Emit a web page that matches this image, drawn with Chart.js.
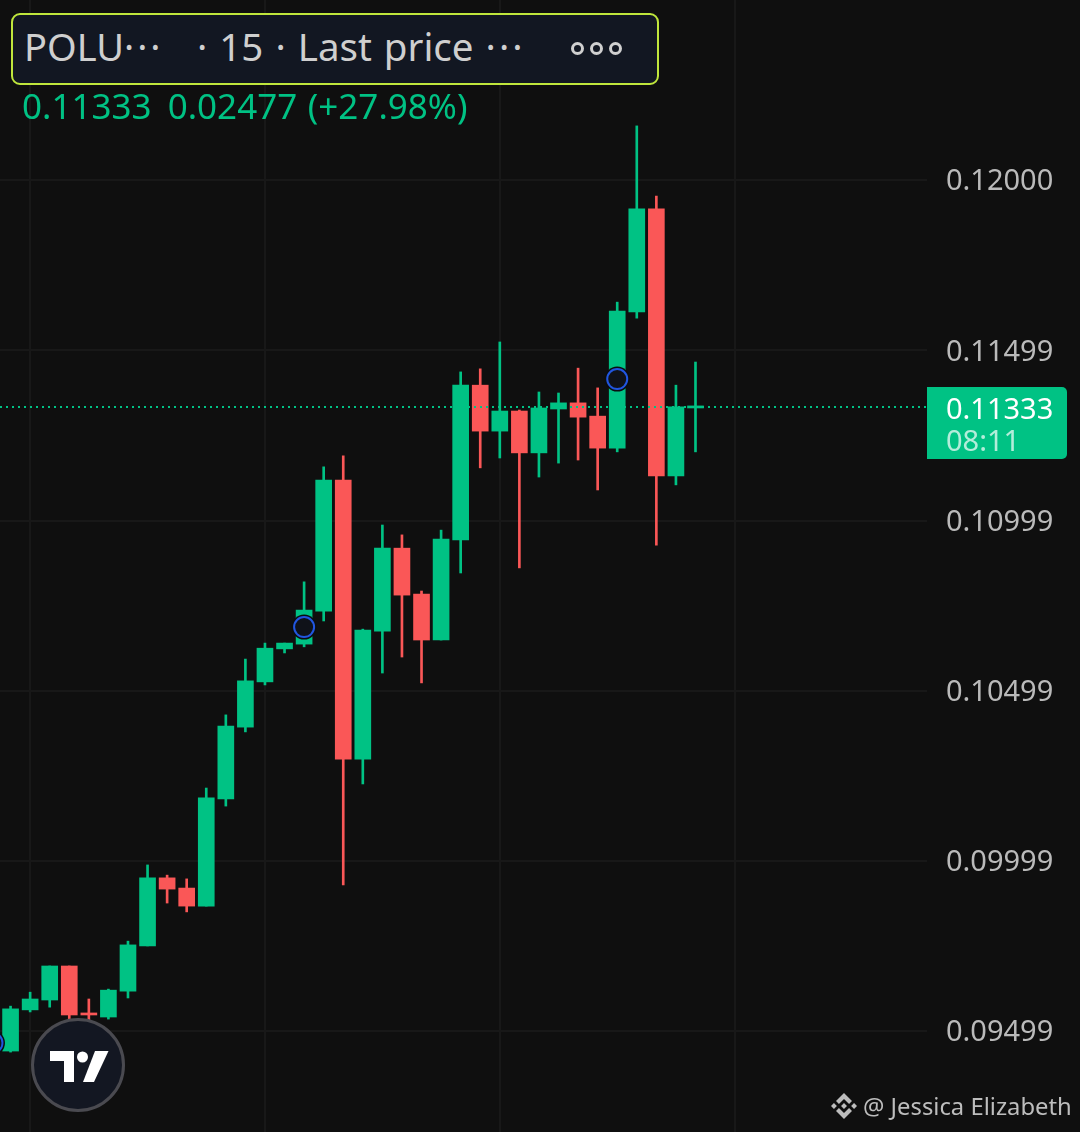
<!DOCTYPE html>
<html>
<head>
<meta charset="utf-8">
<script src="https://cdn.jsdelivr.net/npm/chart.js@4"></script>
<style>
html,body{margin:0;padding:0;background:#0f0f0f;}
#wrap{position:relative;width:1080px;height:1132px;overflow:hidden;background:#0f0f0f;font-family:"Noto Sans",sans-serif;}
canvas{position:absolute;left:0;top:0;}
.abs{position:absolute;white-space:pre;line-height:1;}
#hdr{position:absolute;left:11px;top:13px;width:644px;height:68px;border:2px solid #bfe63c;border-radius:9px;background:#121722;}
.dot{position:absolute;top:42px;width:7px;height:7px;border:3px solid #d0d0d0;border-radius:50%;}
.sp{letter-spacing:3px;}
#tag{position:absolute;left:927px;top:387px;width:140px;height:72px;background:#00c284;border-radius:0 5px 5px 0;}
</style>
</head>
<body>
<div id="wrap">
<canvas id="c" width="1080" height="1132"></canvas>
<div id="hdr"></div>
<div class="abs" style="left:24px;top:27px;font-size:38px;color:#cfcfcf;">POLU<span class="sp">···</span></div>
<div class="abs" style="left:197px;top:27px;font-size:38.5px;word-spacing:2px;color:#cfcfcf;">· 15 · Last price <span class="sp">···</span></div>
<div class="dot" style="left:571px"></div><div class="dot" style="left:590px"></div><div class="dot" style="left:609px"></div>
<div class="abs" style="left:22px;top:88px;font-size:35px;color:#00c284;">0.11333  <span style="margin-left:-2px">0.02477</span> <span style="margin-left:1.5px">(+27.98%)</span></div>
<div id="tag"></div>
<div class="abs" style="left:946px;top:393px;font-size:29px;color:#ffffff;">0.11333</div>
<div class="abs" style="left:946px;top:425px;font-size:29px;color:rgba(255,255,255,.7);">08:11</div>
<svg style="position:absolute;left:30px;top:1017px" width="96" height="96" viewBox="30 1017 96 96">
<circle cx="78" cy="1065" r="45.5" fill="#131722" stroke="#4a4a50" stroke-width="3"/>
<path fill="#fff" d="M50 1051H74V1082H64V1061H50Z"/>
<circle cx="82.5" cy="1057" r="5.5" fill="#fff"/>
<path fill="#fff" d="M95 1051H108.5L94 1082H83Z"/>
</svg>
<svg style="position:absolute;left:831px;top:1093px" width="26" height="26" viewBox="0 0 126.61 126.61" fill="#bdbdbd">
<path d="M38.73 53.2l24.59-24.58 24.6 24.6 14.3-14.31L63.32 0 24.42 38.9l14.31 14.3z"/>
<path d="M0 63.31l14.3-14.31 14.31 14.31-14.31 14.3z"/>
<path d="M38.73 73.41l24.59 24.59 24.6-24.6 14.31 14.29-38.9 38.91-38.91-38.88-.02-.02 14.33-14.29z"/>
<path d="M98.01 63.31l14.3-14.31 14.31 14.3-14.31 14.32z"/>
<path d="M77.83 63.3L63.32 48.78 52.59 59.51l-1.24 1.23-2.54 2.54 0 .03 14.51 14.52 14.51-14.51.01-.02z"/>
</svg>
<div class="abs" style="left:863px;top:1095px;font-size:23.8px;color:#bdbdbd;">@ Jessica Elizabeth</div>
</div>
<script>
const opens  = [0.09440,0.09561,0.09590,0.09690,0.09552,0.09540,0.09616,0.09749,0.09949,0.09919,0.09866,0.10181,0.10392,0.10525,0.10622,0.10636,0.10733,0.11118,0.10298,0.10674,0.10918,0.10783,0.10648,0.10942,0.11397,0.11262,0.11321,0.11198,0.11327,0.11345,0.11306,0.11212,0.11612,0.11915,0.11130,0.11330];
const highs  = [0.09572,0.09613,0.09690,0.09690,0.09593,0.09622,0.09763,0.09987,0.09957,0.09946,0.10213,0.10428,0.10592,0.10639,0.10639,0.10819,0.11157,0.11189,0.10680,0.10986,0.10957,0.10792,0.10971,0.11436,0.11445,0.11524,0.11324,0.11377,0.11374,0.11447,0.11389,0.11641,0.12159,0.11953,0.11397,0.11465];
const lows   = [0.09437,0.09555,0.09569,0.09525,0.09514,0.09534,0.09596,0.09749,0.09875,0.09849,0.09866,0.10160,0.10378,0.10516,0.10610,0.10628,0.10704,0.09928,0.10225,0.10551,0.10598,0.10522,0.10648,0.10845,0.11154,0.11183,0.10860,0.11127,0.11168,0.11177,0.11089,0.11201,0.11594,0.10927,0.11104,0.11201];
const closes = [0.09564,0.09593,0.09690,0.09546,0.09546,0.09619,0.09752,0.09949,0.09916,0.09866,0.10184,0.10395,0.10528,0.10624,0.10639,0.10736,0.11118,0.10298,0.10677,0.10918,0.10780,0.10648,0.10945,0.11397,0.11262,0.11321,0.11198,0.11330,0.11345,0.11303,0.11212,0.11615,0.11915,0.11130,0.11333,0.11336];
const priceTicks = [0.12000,0.11499,0.10999,0.10499,0.09999,0.09499];
const priceLabels = ["0.12000","0.11499","0.10999","0.10499","0.09999","0.09499"];
const timeGridIndex = [1,13,25,37];
const lastPrice = 0.11333;
const markerIndex = [-0.925,15,31];
const markerPrice = [0.09464,0.10686,0.11415];

const UP = '#00c284', DOWN = '#fa5757';
const idx = opens.map((_, i) => i);
const colors = idx.map(i => closes[i] >= opens[i] ? UP : DOWN);
const X_MIN = -0.54, X_MAX = 46.83;
const markers = markerIndex.map((x, i) => ({x, y: markerPrice[i]}));
const noPad = s => { s.paddingTop = s.paddingBottom = s.paddingLeft = s.paddingRight = 0; };

new Chart(document.getElementById('c'), {
  data: { datasets: [
    { type:'bar', order:5, grouped:false, barThickness:2, backgroundColor:colors, borderWidth:0,
      data: idx.map(i => ({x:i, y:[lows[i], highs[i]]})) },
    { type:'bar', order:4, grouped:false, barThickness:16, backgroundColor:colors, borderWidth:0,
      data: idx.map(i => ({x:i, y:[opens[i], closes[i]]})) },
    { type:'line', order:3, borderColor:UP, borderWidth:2, borderDash:[2,4], pointRadius:0, fill:false,
      data: [{x:X_MIN, y:lastPrice},{x:X_MAX, y:lastPrice}] },
    { type:'scatter', order:2, pointRadius:12.5, pointBackgroundColor:'#0b0d10', pointBorderWidth:0, data: markers },
    { type:'scatter', order:1, pointRadius:10, pointBackgroundColor:'#0f1219', pointBorderColor:'#2156e0', pointBorderWidth:2, data: markers }
  ]},
  options: {
    responsive:false, animation:false, devicePixelRatio:1,
    layout:{padding:0, autoPadding:false},
    plugins:{legend:{display:false}, tooltip:{enabled:false}},
    events:[],
    scales:{
      x:{ type:'linear', min:X_MIN, max:X_MAX, offset:false,
        grid:{color:'#181818', lineWidth:2, drawTicks:false, offset:false},
        border:{display:false},
        ticks:{display:false},
        afterBuildTicks:s=>{ s.ticks = timeGridIndex.map(v=>({value:v})); },
        afterFit:s=>{ s.height = 0; noPad(s); }
      },
      y:{ type:'linear', position:'right', min:0.092021, max:0.12529,
        grid:{color:'#181818', lineWidth:2, drawTicks:false},
        border:{display:false},
        ticks:{autoSkip:false, padding:19, labelOffset:2, color:'#bababa', font:{family:'"Noto Sans"', size:29},
          callback:(v,i)=>priceLabels[i]},
        afterBuildTicks:s=>{ s.ticks = priceTicks.map(v=>({value:v})); },
        afterFit:s=>{ s.width = 153; noPad(s); }
      }
    }
  }
});
</script>
</body>
</html>
